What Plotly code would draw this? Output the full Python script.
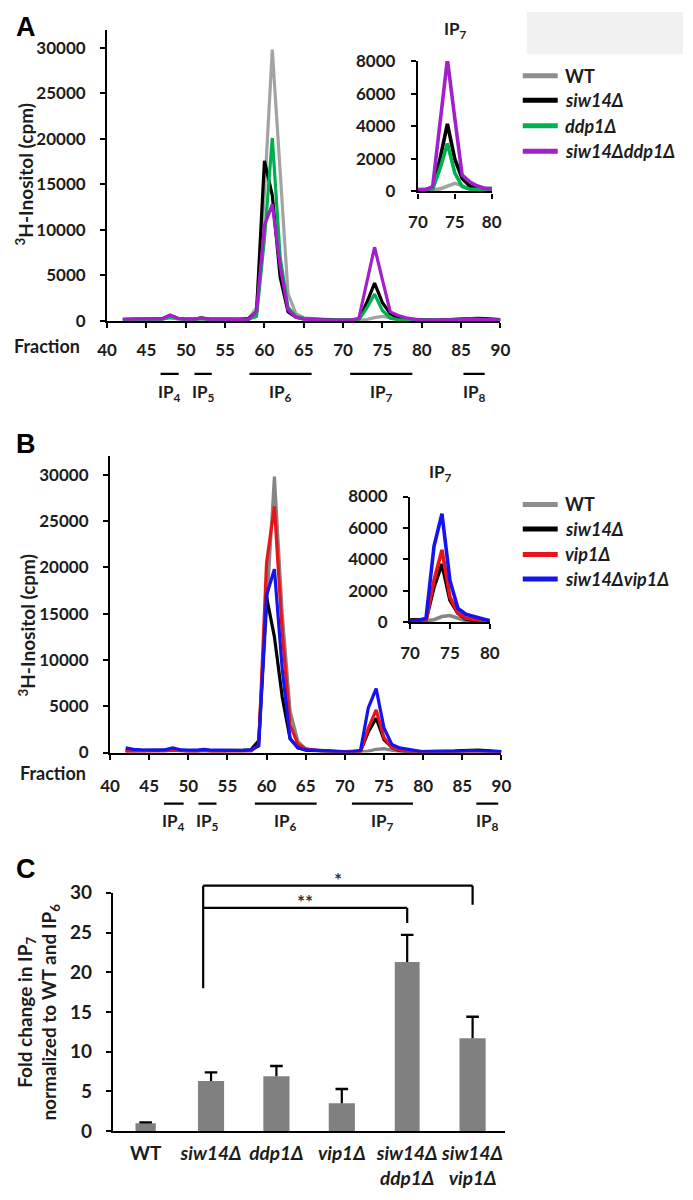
import plotly.graph_objects as go

W, H = 693, 1200
FONT = "Lato"

# ---------------- data ----------------
fractions = list(range(42, 91))

names_a = ["WT", "siw14Δ", "ddp1Δ", "siw14Δddp1Δ"]
wt_a = [150, 150, 150, 150, 150, 200, 350, 200, 150, 150, 250, 150, 150, 150, 150, 150, 200,
        1500, 14000, 29800, 16000, 3000, 800, 350, 250,
        200, 150, 100, 100, 100,
        100, 160, 360, 500, 360, 160, 100, 100, 100,
        100, 100, 100, 150, 200, 250, 250, 200, 150, 100]
siw14_a = [150, 200, 200, 200, 200, 250, 600, 300, 200, 200, 350, 200, 200, 200, 200, 200, 300,
           1000, 17600, 13800, 4800, 1000, 400, 250, 200,
           150, 150, 100, 100, 100,
           200, 2000, 4150, 2000, 800, 350, 200, 150, 100,
           100, 100, 150, 200, 250, 300, 300, 250, 200, 150]
ddp1_a = [150, 150, 150, 150, 150, 200, 400, 250, 150, 150, 250, 150, 150, 150, 150, 150, 200,
          500, 9000, 20100, 7000, 1500, 500, 300, 200,
          150, 100, 100, 100, 100,
          150, 1400, 2950, 1150, 300, 150, 100, 100, 100,
          100, 100, 100, 100, 150, 200, 200, 150, 100, 100]
siw14ddp1_a = [200, 200, 200, 200, 200, 250, 650, 300, 200, 200, 300, 200, 200, 200, 200, 200, 150,
               1100, 10500, 12800, 6000, 1200, 400, 200, 150,
               100, 100, 100, 100, 100,
               300, 4200, 8100, 4500, 1000, 600, 350, 200, 100,
               100, 100, 100, 100, 150, 200, 200, 200, 150, 100]

names_b = ["WT", "siw14Δ", "vip1Δ", "siw14Δvip1Δ"]
wt_b = [150, 150, 150, 150, 150, 200, 300, 200, 150, 150, 200, 150, 150, 150, 150, 150, 200,
        1200, 15000, 29800, 15000, 4500, 1200, 400, 250,
        200, 150, 100, 100, 100,
        80, 150, 350, 420, 250, 80, 80, 80, 80,
        100, 100, 100, 150, 150, 200, 200, 150, 100, 100]
siw14_b = [200, 200, 200, 200, 200, 250, 400, 250, 200, 200, 300, 200, 200, 200, 200, 250, 300,
           1300, 16800, 12500, 6000, 1500, 500, 250, 200,
           150, 150, 100, 100, 100,
           150, 2230, 3700, 1400, 560, 200, 100, 100, 100,
           100, 100, 100, 150, 200, 250, 250, 200, 150, 100]
vip1_b = [100, 100, 100, 100, 100, 150, 250, 150, 100, 100, 200, 100, 100, 100, 100, 100, 150,
          800, 20500, 26600, 13000, 3000, 900, 400, 250,
          150, 100, 100, 100, 100,
          100, 2650, 4600, 1600, 560, 250, 150, 100, 80,
          80, 80, 80, 80, 100, 150, 150, 100, 80, 80]
siw14vip1_b = [500, 350, 300, 250, 250, 300, 500, 300, 250, 250, 350, 250, 250, 250, 250, 200, 300,
               700, 17000, 19800, 9000, 1500, 500, 300, 250,
               200, 150, 100, 80, 100,
               250, 4830, 6900, 2650, 875, 500, 350, 190, 80,
               100, 100, 100, 150, 150, 200, 200, 150, 100, 100]

ip_labels = ["IP<sub>4</sub>", "IP<sub>5</sub>", "IP<sub>6</sub>", "IP<sub>7</sub>", "IP<sub>8</sub>"]
ip_start_a = [46.8, 51.1, 58.1, 70.9, 85.3]
ip_end_a = [49.1, 53.3, 66.0, 78.8, 88.0]
ip_start_b = [46.9, 51.3, 58.5, 70.9, 86.8]
ip_end_b = [49.4, 53.6, 66.4, 78.7, 89.6]

strains = ["WT", "siw14Δ", "ddp1Δ", "vip1Δ", "siw14Δ ddp1Δ", "siw14Δ vip1Δ"]
fold_change = [1.0, 6.3, 6.9, 3.5, 21.3, 11.7]
fold_err = [0.1, 1.1, 1.3, 1.8, 3.4, 2.7]
# significance brackets
sig_from = ["siw14Δ", "siw14Δ"]
sig_to = ["siw14Δ ddp1Δ", "siw14Δ vip1Δ"]
sig_text = ["**", "*"]
sig_top = [28.1, 30.9]
sig_drop = [26.2, 28.5]
sig_left_low = 18.0

# ---------------- styles ----------------
colors_a = ["#a3a3a3", "#000000", "#00b050", "#a21fc9"]
colors_b = ["#858585", "#000000", "#e8131b", "#1414f0"]
legend_a = ["#8e8e8e", "#000000", "#00b050", "#a21fc9"]
legend_b = ["#8e8e8e", "#000000", "#e8131b", "#1414f0"]


def xd(a, b):
    return [a / W, b / W]


def yd(top, bottom):
    return [1 - bottom / H, 1 - top / H]


def px(x):
    return x / W


def py(y):
    return 1 - y / H


def fmt(name):
    if name == "WT":
        return "WT"
    return "<br>".join("<i>" + p + "</i>" for p in name.split(" "))


fig = go.Figure()

for name, vals, c in zip(names_a, [wt_a, siw14_a, ddp1_a, siw14ddp1_a], colors_a):
    fig.add_trace(go.Scatter(x=fractions, y=vals, mode="lines", name=name,
                             line=dict(color=c, width=3.2), xaxis="x", yaxis="y", showlegend=False))
    fig.add_trace(go.Scatter(x=fractions, y=vals, mode="lines", name=name,
                             line=dict(color=c, width=3.6), xaxis="x2", yaxis="y2", showlegend=False))
for name, vals, c in zip(names_b, [wt_b, siw14_b, vip1_b, siw14vip1_b], colors_b):
    fig.add_trace(go.Scatter(x=fractions, y=vals, mode="lines", name=name,
                             line=dict(color=c, width=3.2), xaxis="x3", yaxis="y3", showlegend=False))
    fig.add_trace(go.Scatter(x=fractions, y=vals, mode="lines", name=name,
                             line=dict(color=c, width=3.6), xaxis="x4", yaxis="y4", showlegend=False))

fig.add_trace(go.Bar(x=strains, y=fold_change, marker=dict(color="#808080", line=dict(width=0)),
                     width=[0.31, 0.4, 0.4, 0.4, 0.38, 0.4],
                     xaxis="x5", yaxis="y5", showlegend=False))
# one-sided error bars: stem from bar top up to the cap, cap only at the top
err_top = [v + e for v, e in zip(fold_change, fold_err)]
fig.add_trace(go.Scatter(x=strains, y=err_top, mode="markers",
                         marker=dict(symbol="line-ew-open", size=9, color="black",
                                     line=dict(color="black", width=2.4)),
                         error_y=dict(type="data", array=[0] * len(fold_err), arrayminus=fold_err,
                                      symmetric=False, color="black", thickness=2.2, width=0),
                         xaxis="x5", yaxis="y5", showlegend=False, hoverinfo="skip"))

axbase = dict(showline=True, linecolor="black", linewidth=2.2, ticks="outside", tickcolor="black",
              tickwidth=2, ticklen=5, showgrid=False, zeroline=False, tickfont=dict(size=17),
              tickformat="d")

fig.update_layout(
    width=W, height=H, margin=dict(l=0, r=0, t=0, b=0),
    paper_bgcolor="white", plot_bgcolor="rgba(0,0,0,0)",
    font=dict(family=FONT, size=17, color="#1c1c1c", weight="bold"),
    showlegend=False,
    xaxis=dict(axbase, domain=xd(100, 505), range=[40, 90], tickvals=list(range(40, 91, 5)),
               anchor="y", ticklabelstandoff=8),
    yaxis=dict(axbase, domain=yd(18, 315), range=[0, 32000], tickvals=list(range(0, 30001, 5000)),
               anchor="x", ticklabelstandoff=11),
    xaxis2=dict(axbase, domain=xd(420, 496), range=[70, 80], tickvals=[70, 75, 80],
                anchor="y2", ticklabelstandoff=9),
    yaxis2=dict(axbase, domain=yd(50, 183), range=[0, 8000], tickvals=list(range(0, 8001, 2000)),
                anchor="x2", ticklabelstandoff=12),
    xaxis3=dict(axbase, domain=xd(103, 506), range=[40, 90], tickvals=list(range(40, 91, 5)),
                anchor="y3", ticklabelstandoff=12),
    yaxis3=dict(axbase, domain=yd(453, 755), range=[0, 32000], tickvals=list(range(0, 30001, 5000)),
                anchor="x3", ticklabelstandoff=11),
    xaxis4=dict(axbase, domain=xd(412, 494), range=[70, 80], tickvals=[70, 75, 80],
                anchor="y4", ticklabelstandoff=9),
    yaxis4=dict(axbase, domain=yd(494, 622), range=[0, 8000], tickvals=list(range(0, 8001, 2000)),
                anchor="x4", ticklabelstandoff=12),
    xaxis5=dict(showline=True, linecolor="black", linewidth=2.2, ticks="", showgrid=False,
                zeroline=False, domain=xd(106, 510), anchor="y5", type="category",
                tickvals=strains, ticktext=[fmt(s) for s in strains], tickfont=dict(size=19),
                ticklabelstandoff=4),
    yaxis5=dict(axbase, domain=yd(898, 1141), range=[0, 30], tickvals=list(range(0, 31, 5)),
                anchor="x5", tickfont=dict(size=19), ticklabelstandoff=10),
)

shapes = []
annotations = []

shapes.append(dict(type="rect", xref="paper", yref="paper", x0=px(532), x1=1, y0=py(43), y1=1,
                   fillcolor="#f1f1f1", line=dict(width=0), layer="below"))

for letter, yy in zip(["A", "B", "C"], [15, 440, 874]):
    annotations.append(dict(text=letter, x=px(4), y=py(yy), xref="paper", yref="paper",
                            xanchor="left", yanchor="middle", showarrow=False,
                            font=dict(family="Liberation Sans", size=27, color="black", weight="bold")))

for yy, xx in zip([166, 626], [15, 17]):
    annotations.append(dict(text="<sup>3</sup>H-Inositol (cpm)", x=px(xx), y=py(yy), xref="paper",
                            yref="paper", xanchor="center", yanchor="middle", textangle=-90,
                            showarrow=False, font=dict(size=19)))
for yy, xx in zip([341, 776], [2, 8]):
    annotations.append(dict(text="Fraction", x=px(xx), y=py(yy), xref="paper", yref="paper",
                            xanchor="left", yanchor="middle", showarrow=False, font=dict(size=18)))

for xx, yy in zip([459, 443], [18, 470]):
    annotations.append(dict(text="IP<sub>7</sub>", x=px(xx), y=py(yy), xref="paper", yref="paper",
                            xanchor="center", yanchor="middle", showarrow=False, font=dict(size=17)))

for xref, starts, ends, ybar, ylab in [("x", ip_start_a, ip_end_a, 369, 388),
                                      ("x3", ip_start_b, ip_end_b, 807, 826)]:
    for lab, s, e in zip(ip_labels, starts, ends):
        shapes.append(dict(type="line", xref=xref, yref="paper", x0=s, x1=e, y0=py(ybar), y1=py(ybar),
                           line=dict(color="black", width=2.2)))
        annotations.append(dict(text=lab, xref=xref, yref="paper", x=(s + e) / 2, y=py(ylab),
                                xanchor="center", yanchor="middle", showarrow=False,
                                font=dict(size=17)))

for names, cols, rows in [(names_a, legend_a, [65, 90, 116, 142]),
                          (names_b, legend_b, [502, 527, 553, 578])]:
    for name, c, yy in zip(names, cols, rows):
        shapes.append(dict(type="line", xref="paper", yref="paper", x0=px(528), x1=px(564),
                           y0=py(yy), y1=py(yy), line=dict(color=c, width=5)))
        label = name if name == "WT" else "<i>" + name + "</i>"
        annotations.append(dict(text=label, x=px(569), y=py(yy), xref="paper", yref="paper",
                                xanchor="left", yanchor="middle", showarrow=False, font=dict(size=18)))

annotations.append(dict(text="Fold change in IP<sub>7</sub><br>normalized to WT and IP<sub>6</sub>",
                        x=px(29), y=py(1020), xref="paper", yref="paper", textangle=-90,
                        xanchor="center", yanchor="middle", showarrow=False, font=dict(size=19)))

ymax_c = 30.0
left_idx = strains.index(sig_from[0]) - 0.12
shapes.append(dict(type="line", xref="x5", yref="y5 domain", x0=left_idx, x1=left_idx,
                   y0=sig_left_low / ymax_c, y1=max(sig_top) / ymax_c, line=dict(color="black", width=2.2)))
for a, b, t, top, drop in zip(sig_from, sig_to, sig_text, sig_top, sig_drop):
    xa = strains.index(a) - 0.12
    xb = strains.index(b)
    shapes.append(dict(type="line", xref="x5", yref="y5 domain", x0=xa, x1=xb,
                       y0=top / ymax_c, y1=top / ymax_c, line=dict(color="black", width=2.2)))
    shapes.append(dict(type="line", xref="x5", yref="y5 domain", x0=xb, x1=xb,
                       y0=top / ymax_c, y1=drop / ymax_c, line=dict(color="black", width=2.2)))
    annotations.append(dict(text=t, xref="x5", yref="y5 domain", x=(xa + xb) / 2, y=top / ymax_c,
                            xanchor="center", yanchor="bottom", yshift=-7, showarrow=False,
                            font=dict(size=19, color="#333333")))

fig.update_layout(shapes=shapes, annotations=annotations)
fig.write_html("out.html", config={"displayModeBar": False},
               post_script="document.body.style.margin='0px';")
